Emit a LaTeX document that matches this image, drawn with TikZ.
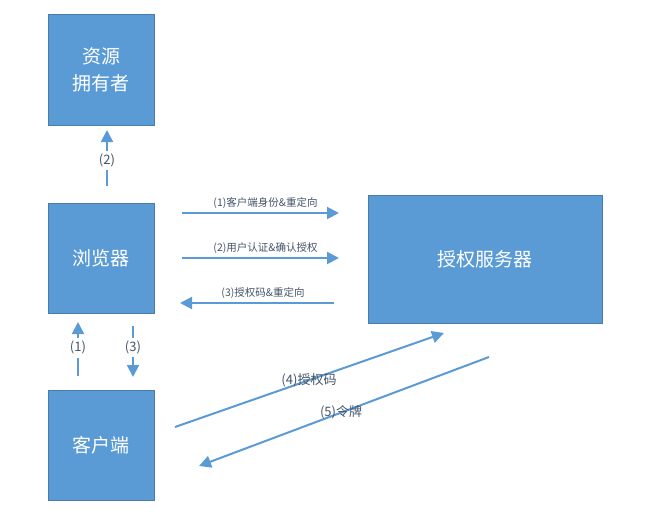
\documentclass[tikz,border=0pt]{standalone}
\usepackage{fontspec}
\setmainfont{Noto Sans CJK SC}
\usetikzlibrary{arrows.meta}
\definecolor{bx}{HTML}{5B9BD5}
\definecolor{lb}{HTML}{44546A}
\tikzset{
 box/.style={fill=bx,draw=bx!80!black,line width=0.4pt,text=white,font=\fontsize{19}{27}\selectfont,align=center},
 arr/.style={draw=bx,line width=2pt,-{Triangle[length=12pt,width=12pt]}},
 lbl/.style={text=lb,font=\fontsize{13}{15}\selectfont,inner sep=1pt},
 slbl/.style={text=lb,font=\fontsize{10.5}{12}\selectfont,inner sep=1pt},
 gap/.style={fill=white,text=lb,font=\fontsize{13}{15}\selectfont,inner sep=3pt}
}
\begin{document}
\begin{tikzpicture}[x=1pt,y=-1pt]
\useasboundingbox (0,0) rectangle (649,514);
\node[box,minimum width=106pt,minimum height=111pt] (a) at (101,70) {资源\\拥有者};
\node[box,minimum width=106pt,minimum height=110pt] (b) at (101,258) {浏览器};
\node[box,minimum width=106pt,minimum height=110pt] (c) at (101,445) {客户端};
\node[box,minimum width=234pt,minimum height=128pt] (s) at (485,259) {授权服务器};
% vertical
\coordinate (b2s) at (107,186); \coordinate (a2e) at (107,130);
\draw[arr] (b2s) -- node[gap,pos=0.45]{(2)} (a2e);
\coordinate (c1s) at (78,376); \coordinate (b1e) at (78,322);
\draw[arr] (c1s) -- node[gap,pos=0.52]{(1)} (b1e);
\coordinate (b3s) at (133,326); \coordinate (c3e) at (133,377);
\draw[arr] (b3s) -- node[gap,pos=0.42]{(3)} (c3e);
% horizontal
\coordinate (h1s) at (182,213); \coordinate (h1e) at (339,213);
\draw[arr] (h1s) -- node[slbl,above=2pt,xshift=5pt]{(1)客户端身份\&重定向} (h1e);
\coordinate (h2s) at (182,258); \coordinate (h2e) at (339,258);
\draw[arr] (h2s) -- node[slbl,above=2pt,xshift=5pt]{(2)用户认证\&确认授权} (h2e);
\coordinate (h3s) at (334,303); \coordinate (h3e) at (180,303);
\draw[arr] (h3s) -- node[slbl,above=2pt,xshift=6pt]{(3)授权码\&重定向} (h3e);
% diagonal
\coordinate (d4s) at (175,427); \coordinate (d4e) at (444,333);
\draw[arr] (d4s) -- (d4e);
\node[lbl] (l4) at (309,380) {(4)授权码};
\coordinate (d5s) at (489,357); \coordinate (d5e) at (199,466);
\draw[arr] (d5s) -- (d5e);
\node[lbl] (l5) at (341,412) {(5)令牌};
\end{tikzpicture}
\end{document}
